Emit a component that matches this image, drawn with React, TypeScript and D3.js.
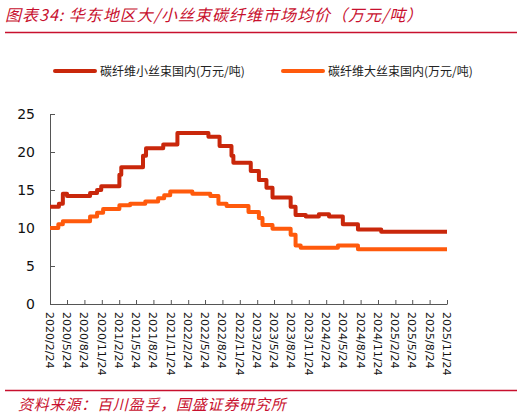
import * as d3 from "d3";
import React, { useEffect, useRef } from "react";

const tickLabels = [
  "2020/2/24", "2020/5/24", "2020/8/24", "2020/11/24",
  "2021/2/24", "2021/5/24", "2021/8/24", "2021/11/24",
  "2022/2/24", "2022/5/24", "2022/8/24", "2022/11/24",
  "2023/2/24", "2023/5/24", "2023/8/24", "2023/11/24",
  "2024/2/24", "2024/5/24", "2024/8/24", "2024/11/24",
  "2025/2/24", "2025/5/24", "2025/8/24", "2025/11/24",
];

// 小丝束: dates where the price changes, value holds until next date
const smallDates = [
  "2020/2/24", "2020/4/11", "2020/5/2", "2020/5/24", "2020/9/23", "2020/10/30",
  "2020/11/21", "2021/2/25", "2021/3/7", "2021/6/30", "2021/7/16", "2021/10/15",
  "2021/12/29", "2022/6/11", "2022/8/9", "2022/10/11", "2022/10/21", "2023/1/21",
  "2023/3/5", "2023/4/14", "2023/5/16", "2023/8/20", "2023/9/15", "2023/11/8",
  "2024/1/16", "2024/3/10", "2024/5/22", "2024/8/10", "2024/12/11", "2025/11/24",
];
const smallValues = [
  12.8, 13.2, 14.5, 14.2, 14.6, 15.0,
  15.5, 17.0, 18.0, 19.5, 20.5, 21.0,
  22.5, 22.0, 20.8, 19.5, 18.6, 17.5,
  16.3, 15.3, 14.0, 12.8, 11.7, 11.5,
  11.8, 11.5, 10.5, 9.8, 9.5, 9.5,
];

// 大丝束
const largeDates = [
  "2020/2/24", "2020/4/8", "2020/5/2", "2020/9/23", "2020/10/30", "2020/12/1",
  "2021/2/25", "2021/4/23", "2021/7/12", "2021/9/18", "2021/10/20", "2021/11/21",
  "2022/3/18", "2022/6/21", "2022/8/3", "2022/9/15", "2023/1/9", "2023/3/5",
  "2023/3/24", "2023/5/16", "2023/8/20", "2023/9/15", "2023/10/12", "2024/4/26",
  "2024/8/10", "2025/11/24",
];
const largeValues = [
  10.0, 10.5, 10.9, 11.5, 12.0, 12.5,
  13.0, 13.2, 13.5, 13.9, 14.3, 14.8,
  14.5, 14.2, 13.2, 12.9, 12.1, 11.3,
  10.4, 9.9, 9.1, 7.7, 7.4, 7.7,
  7.2, 7.2,
];

const yTicks = [0, 5, 10, 15, 20, 25];
const seriesNames = ["碳纤维小丝束国内(万元/吨)", "碳纤维大丝束国内(万元/吨)"];
const seriesColors = ["#C9270B", "#FF5A0C"];
const title = "图表34: 华东地区大/小丝束碳纤维市场均价（万元/吨）";
const source = "资料来源：百川盈孚，国盛证券研究所";

const parse = d3.timeParse("%Y/%m/%d");

const App: React.FC = () => {
  const ref = useRef<SVGSVGElement>(null);

  useEffect(() => {
    const svg = d3.select(ref.current);
    svg.selectAll("*").remove();

    const left = 50, right = 447, top = 114, bottom = 304;
    const ticks = tickLabels.map((t) => parse(t)!);

    const x = d3.scaleTime().domain([ticks[0], ticks[ticks.length - 1]]).range([left, right]);
    const y = d3.scaleLinear().domain([0, 25]).range([bottom, top]);

    // title + rules
    svg.append("text")
      .attr("x", 5).attr("y", 21)
      .attr("fill", "#C8102E")
      .attr("font-family", "'Noto Sans CJK SC'")
      .attr("font-style", "italic")
      .attr("font-size", 16)
      .attr("letter-spacing", 1)
      .text(title);
    svg.append("line").attr("x1", 5).attr("x2", 517).attr("y1", 32.5).attr("y2", 32.5)
      .attr("stroke", "#C8102E").attr("stroke-width", 1.5);
    svg.append("line").attr("x1", 5).attr("x2", 517).attr("y1", 390.5).attr("y2", 390.5)
      .attr("stroke", "#C8102E").attr("stroke-width", 1.5);
    svg.append("text")
      .attr("x", 18).attr("y", 410)
      .attr("fill", "#C8102E")
      .attr("font-family", "'Noto Sans CJK SC'")
      .attr("font-style", "italic")
      .attr("font-size", 15)
      .attr("letter-spacing", 0.8)
      .text(source);

    // legend
    const legendX = [55, 283];
    seriesNames.forEach((name, i) => {
      svg.append("line")
        .attr("x1", legendX[i]).attr("x2", legendX[i] + 40)
        .attr("y1", 71).attr("y2", 71)
        .attr("stroke", seriesColors[i]).attr("stroke-width", 4)
        .attr("stroke-linecap", "round");
      svg.append("text")
        .attr("x", legendX[i] + 45).attr("y", 75.5)
        .attr("font-family", "'Noto Sans CJK SC'")
        .attr("font-size", 12)
        .attr("fill", "#222")
        .text(name);
    });

    // y axis
    const yAxis = svg.append("g")
      .attr("transform", `translate(${left},0)`)
      .call(d3.axisRight(y).tickValues(yTicks).tickSize(5).tickFormat(() => ""));
    yAxis.select(".domain").attr("stroke", "#555");
    yAxis.selectAll("line").attr("stroke", "#555");
    svg.append("g")
      .selectAll("text")
      .data(yTicks)
      .join("text")
      .attr("x", 35).attr("y", (d) => y(d) + 5)
      .attr("text-anchor", "end")
      .attr("font-family", "'DejaVu Sans'")
      .attr("font-size", 14)
      .attr("fill", "#111")
      .text((d) => d);

    // x axis
    const xAxis = svg.append("g")
      .attr("transform", `translate(0,${bottom})`)
      .call(d3.axisTop(x).tickValues(ticks).tickSize(4).tickSizeOuter(0).tickFormat(() => ""));
    xAxis.select(".domain").attr("stroke", "#555");
    xAxis.selectAll("line").attr("stroke", "#555");
    svg.append("g")
      .selectAll("text")
      .data(ticks)
      .join("text")
      .attr("transform", (d) => `translate(${x(d) - 4},${bottom + 8}) rotate(90)`)
      .attr("font-family", "'DejaVu Sans'")
      .attr("font-size", 11)
      .attr("fill", "#111")
      .text((_, i) => tickLabels[i]);

    // series
    const line = d3.line<[Date, number]>()
      .x((d) => x(d[0]))
      .y((d) => y(d[1]))
      .curve(d3.curveStepAfter);

    const series: [Date, number][][] = [
      smallDates.map((d, i) => [parse(d)!, smallValues[i]]),
      largeDates.map((d, i) => [parse(d)!, largeValues[i]]),
    ];
    series.forEach((s, i) => {
      svg.append("path")
        .datum(s)
        .attr("fill", "none")
        .attr("stroke", seriesColors[i])
        .attr("stroke-width", 4)
        .attr("stroke-linejoin", "round")
        .attr("d", line);
    });
  }, []);

  return (
    <svg
      ref={ref}
      width={525}
      height={416}
      style={{ position: "absolute", left: 0, top: 0, background: "#fff" }}
    />
  );
};

export default App;
